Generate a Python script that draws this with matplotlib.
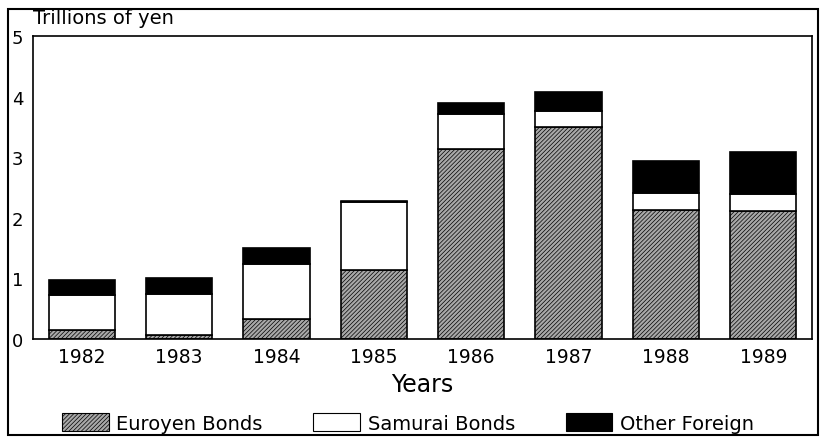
import matplotlib.pyplot as plt
from matplotlib.patches import Rectangle, Patch

years = ["1982", "1983", "1984", "1985", "1986", "1987", "1988", "1989"]
euroyen = [0.15, 0.07, 0.33, 1.14, 3.14, 3.50, 2.13, 2.11]
samurai = [0.58, 0.68, 0.91, 1.12, 0.57, 0.27, 0.28, 0.28]
other = [0.24, 0.25, 0.26, 0.02, 0.19, 0.31, 0.53, 0.70]

plt.rcParams['font.family'] = ['DejaVu Sans']
plt.rcParams['hatch.linewidth'] = 0.5

fig = plt.figure(figsize=(8.24, 4.39), dpi=100)
ax = fig.add_axes([33 / 824, 1 - 340 / 439, 779 / 824, 303 / 439])

x = list(range(len(years)))
bottom2 = [e + s for e, s in zip(euroyen, samurai)]

ax.bar(x, euroyen, 0.68, color='#a8a8a8', edgecolor='black', hatch='////////', linewidth=1.2)
ax.bar(x, samurai, 0.68, bottom=euroyen, color='white', edgecolor='black', linewidth=1.2)
ax.bar(x, other, 0.68, bottom=bottom2, color='black', edgecolor='black', linewidth=1.2)

ax.set_xlim(-0.5, 7.5)
ax.set_ylim(0, 5)
ax.set_yticks([0, 1, 2, 3, 4, 5])
ax.set_xticks(x)
ax.set_xticklabels(years)
ax.tick_params(axis='x', length=0, labelsize=13.5, pad=6)
ax.tick_params(axis='y', length=0, labelsize=13, pad=7)
for s in ax.spines.values():
    s.set_linewidth(1.2)

ax.set_xlabel("Years", fontsize=17, labelpad=4)
fig.text(33 / 824, 1 - 19 / 439, "Trillions of yen", fontsize=14, va='center', ha='left')

handles = [Patch(facecolor='#a8a8a8', edgecolor='black', hatch='////////', linewidth=0.8),
           Patch(facecolor='white', edgecolor='black', linewidth=0.8),
           Patch(facecolor='black', edgecolor='black', linewidth=0.8)]
fig.legend(handles, ["Euroyen Bonds", "Samurai Bonds", "Other Foreign"], loc='center',
           bbox_to_anchor=(408 / 824, 1 - 424 / 439), ncol=3, frameon=False, fontsize=14,
           handlelength=2.4, handleheight=1.0, columnspacing=2.6, handletextpad=0.4)

fig.patches.append(Rectangle((8 / 824, 1 - 436 / 439), 810 / 824, 426 / 439,
                             transform=fig.transFigure, fill=False, edgecolor='black', linewidth=1.5))

fig.savefig("out.png", dpi=100)
